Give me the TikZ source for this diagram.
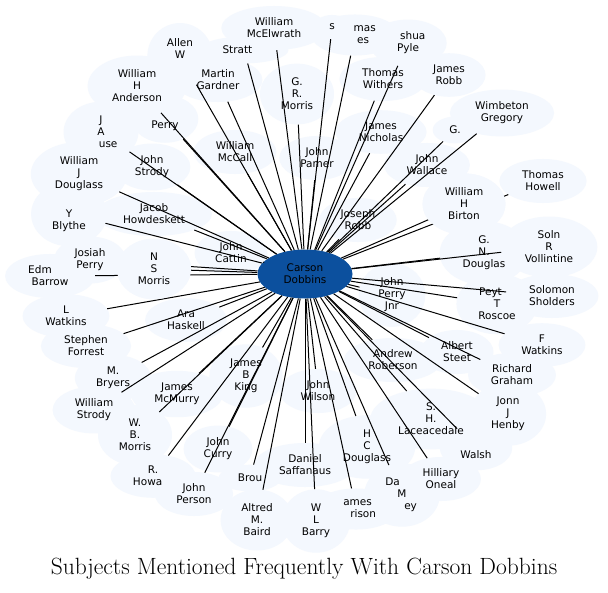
\documentclass[tikz,border=0pt]{standalone}
\usepackage{fontspec}
\newfontfamily\nodefont{DejaVu Sans}
\usetikzlibrary{shapes.geometric}
\definecolor{cloud}{RGB}{244,248,254}
\definecolor{hub}{RGB}{12,80,158}
\tikzset{
  person/.style={ellipse, inner xsep=10pt, inner ysep=5.5pt, align=center,
    font=\nodefont\fontsize{10.5}{12}\selectfont},
  personbg/.style={person, fill=cloud, text=cloud},
  personfront/.style={person, fill=cloud},
  hubnode/.style={ellipse, fill=hub, minimum width=95pt, minimum height=49pt,
    inner sep=0pt, align=center, font=\nodefont\fontsize{10.5}{12}\selectfont},
  link/.style={draw=black, line width=1pt},
  titlestyle/.style={font=\fontsize{23.5}{28}\selectfont}
}
\newcommand\peoplelist{%
 mcel/274/28/{William\\McElwrath},
 hs/332/27/{s},
 tj/355/35/{\hphantom{Tho}mas\\\hphantom{Jon}es},
 jp/408/43/{\hphantom{Jo}shua\\Pyle},
 aw/180/56/{Allen\\W\\\strut},
 st/244/50/{Stratt\hphantom{on}},
 wha/137/86/{William\\H\\Anderson},
 mg/218/80/{Martin\\Gardner},
 grm/297/94/{G.\\R.\\Morris},
 tw/383/79/{Thomas\\Withers},
 jrb/449/75/{James\\Robb},
 wg/502/113/{Wimbeton\\Gregory},
 gg/455/130/{G.},
 jah/101/132/{J\\A\\\hphantom{Ho}use},
 pe/165/119/{\strut\\Perry},
 wmc/235/152/{William\\McCall},
 jpa/317/158/{John\\Pamer},
 jn/381/132/{James\\Nicholas},
 jw/427/165/{John\\Wallace},
 th/543/181/{Thomas\\Howell},
 wjd/79/174/{William\\J\\Douglass},
 js/152/167/{John\\Strody},
 whb/464/204/{William\\H\\Birton},
 jh/154/214/{Jacob\\Howdeskett},
 jor/358/220/{Joseph\\Robb},
 yb/69/214/{\strut\\Y\\Blythe},
 gnd/484/253/{G.\\N.\\Douglas},
 srv/549/247/{Soln\\R\\Vollintine},
 jsp/90/260/{Josiah\\Perry},
 nsm/154/269/{N\\S\\Morris},
 jc/231/253/{John\\Cattin},
 eb/50/276/{Edm\hphantom{und}\\Barrow},
 jpj/392/295/{John\\Perry\\Jnr},
 ptr/497/304/{Peyt\hphantom{on}\\T\\Roscoe},
 ss/552/296/{Solomon\\Sholders},
 lw/66/316/{L\\Watkins},
 ah/186/320/{Ara\\Haskell},
 sf/86/346/{Stephen\\Forrest},
 ast/457/352/{Albert\\Steet},
 fw/542/345/{F\\Watkins},
 ar/393/360/{Andrew\\Roberson},
 mb/113/378/{M.\\Bryers},
 jbk/246/376/{James\\B\\King},
 jmm/177/394/{James\\McMurry},
 jwi/318/391/{John\\Wilson},
 rg/512/375/{Richard\\Graham},
 ws/94/410/{William\\Strody},
 wbm/135/435/{W.\\B.\\Morris},
 shl/431/419/{S.\\H.\\Laceacedale},
 jjh/508/414/{Jonn\\J\\Henby},
 jcu/218/449/{John\\Curry},
 hcd/367/447/{H\\C\\Douglass},
 wal/476/448/{\strut\\Walsh},
 rh/153/476/{R.\\Howa\hphantom{rd}},
 bro/250/478/{Brou},
 dsf/305/465/{Daniel\\Saffanaus},
 ho/441/479/{Hilliary\\Oneal},
 dm/402/495/{Da\hphantom{niel}\\M\\\hphantom{Hal}ey},
 jpe/194/494/{John\\Person},
 jam/356/509/{\hphantom{J}ames\\\hphantom{Ha}rison},
 amb/257/520/{Altred\\M.\\Baird},
 wlb/316/521/{W\\L\\Barry}%
}
\begin{document}
\begin{tikzpicture}[x=1pt,y=-1pt]
\useasboundingbox (0,0) rectangle (608,592);
\fill[white] (0,0) rectangle (608,592);
% cloud fills
\foreach \n/\x/\y/\t in \peoplelist {\node[personbg] at (\x,\y) {\t};}
% labels
\foreach \n/\x/\y/\t in \peoplelist {\node[person] (\n) at (\x,\y) {\t};}
% hub
\node[hubnode] (cd) at (305,274) {Carson\\Dobbins};
% connectors
\foreach \n/\x/\y/\t in \peoplelist {\draw[link] (cd) -- (\n);}
% clouds that lie over other connectors
\node[personfront] (nsmfront) at (154,269) {N\\S\\Morris};
\node[personfront] (whbfront) at (464,204) {William\\H\\Birton};
\node[titlestyle] (title) at (304,569) {Subjects Mentioned Frequently With Carson Dobbins};
\end{tikzpicture}
\end{document}
